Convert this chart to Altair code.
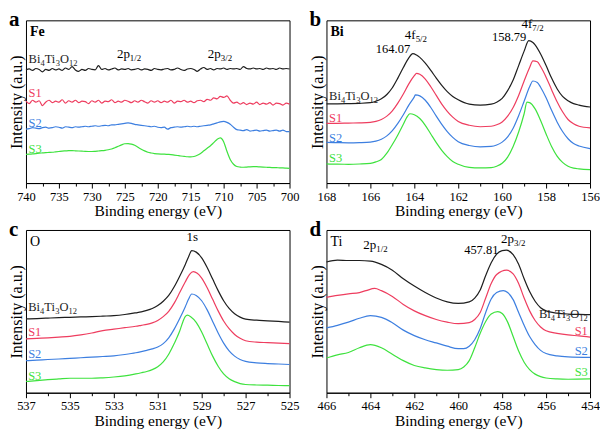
import altair as alt
import pandas as pd
import numpy as np

FONT = "Liberation Serif"
SERIES = ["Bi4Ti3O12", "S1", "S2", "S3"]
COLORS = ["#1e1e1e", "#ee3d5f", "#3d7fe0", "#3ee23e"]

# ---------------- Fe 2p (panel a) ----------------
FE_X = list(np.arange(740, 699.75, -0.5))
FE_BLACK = [117.5, 118.5, 117, 119, 118, 115.5, 118, 117, 119, 117.5,
            118.5, 117, 119.5, 118, 121, 117.5, 116, 118, 117, 119,
            118, 117.5, 122, 118, 119, 117.5, 118.5, 119.5, 117.5, 118.5,
            118, 119, 117.5, 118, 119, 117.5, 118.5, 118, 117, 119,
            118, 117.5, 118.5, 119, 117.5, 118, 119.5, 118, 117, 118.5,
            119, 118, 116, 118.5, 120, 118, 119, 117.5, 119, 118.5,
            119.5, 118, 119, 118.5, 119, 118, 121, 119, 118.5, 119.5,
            118.5, 119, 118, 119.5, 118.5, 119, 118, 119.5, 118.5, 119,
            118.5]
FE_RED = [85, 82.5, 86, 84, 85.5, 80.5, 84, 86, 83.5, 85,
          84, 86.5, 83, 85.5, 84, 86, 83.5, 85, 84.5, 82.5,
          85.5, 84, 86, 83, 85, 84.5, 86.5, 83.5, 85, 84,
          86, 85, 83.5, 85.5, 84, 86, 84.5, 83, 85.5, 84,
          85.5, 83.5, 85, 84, 86, 83, 85, 84.5, 86, 84,
          85, 83.5, 85.5, 86, 84.5, 87, 86, 88.5, 87.5, 90,
          89, 90.5, 86, 83, 84, 82, 83.5, 81.5, 83, 82,
          84, 81.5, 83, 82, 83.5, 81, 83, 82.5, 81, 83,
          82]
FE_BLUE = [56, 56.5, 57.5, 57, 56.5, 57.5, 58, 57, 57.5, 58.5,
           58, 57, 58.5, 58, 57.5, 58.5, 58, 58.5, 59, 58.5,
           59, 59.5, 59, 59.5, 60, 59.5, 60.5, 60.5, 61, 61.5,
           62, 62.5, 62, 61, 60.5, 60, 59.5, 59, 58.5, 59,
           58, 57.5, 58, 56, 57.5, 58, 58.5, 58, 58.5, 59,
           58.5, 59, 58.5, 59, 59.5, 60, 60.5, 61.5, 62.5, 63.5,
           64, 63, 61, 58, 55.5, 55, 54.5, 55.5, 54, 54.5,
           55, 54, 54.5, 55, 54, 54.5, 55, 54, 55, 53.5,
           53.5]
FE_GREEN = [29.7, 30, 30.3, 30.6, 31, 31.3, 31.6, 31.8, 32, 32.4,
            32.8, 33.2, 33.4, 33.6, 33.7, 33.5, 33.3, 33.1, 32.9, 32.8,
            32.8, 33, 33.3, 33.6, 34, 34.6, 35.4, 36.6, 38.2, 39.7,
            40.8, 41, 40.4, 39.2, 37.2, 35.2, 33.4, 32, 31.2, 30.6,
            30.3, 30.1, 30, 29.8, 29.6, 29.1, 28.6, 28.1, 27.7, 27.3,
            27.1, 27.6, 28.8, 30.8, 33.5, 36.2, 38.8, 42, 45.3, 47,
            43, 33, 24.5, 19.5, 17.2, 16.6, 16.4, 16.6, 16.9, 17,
            17, 16.8, 16.6, 16.4, 16.2, 16.1, 16, 15.8, 15.7, 15.5,
            15.3]

# ---------------- Bi 4f (panel b) ----------------
BI_BLACK_X = [168, 167.5, 167, 166.5, 166, 165.75, 165.5, 165.25, 165, 164.75, 164.5, 164.25, 164.07,
              163.9, 163.75, 163.5, 163.25, 163, 162.75, 162.5, 162.25, 162, 161.5, 161, 160.5, 160.25, 160,
              159.75, 159.5, 159.25, 159, 158.79, 158.6, 158.5, 158.25, 158, 157.75, 157.5, 157.25, 157,
              156.75, 156.5, 156]
BI_BLACK_Y = [82.3, 82.3, 82.5, 82.8, 83.5, 85, 87.5, 92, 99, 109, 120, 130, 134.5,
              133, 130.5, 124.5, 117, 109, 101.5, 95, 90, 86.5, 82, 81, 82, 84, 88,
              96, 107, 122, 137, 148, 146, 143.5, 134, 122, 109, 98, 90, 85.5,
              82.5, 81, 79]
BI_RED_X = [168, 167.5, 167, 166.5, 166, 165.75, 165.5, 165.25, 165, 164.75, 164.5, 164.25, 164,
            163.9, 163.75, 163.5, 163.25, 163, 162.75, 162.5, 162.25, 162, 161.5, 161, 160.5, 160.25, 160,
            159.75, 159.5, 159.25, 159, 158.75, 158.6, 158.4, 158.25, 158, 157.75, 157.5, 157.25, 157,
            156.75, 156.5, 156]
BI_RED_Y = [62, 62, 62.3, 62.5, 63, 64, 66, 69.5, 75, 83, 92.5, 103, 111.5,
            114, 113, 108, 100, 91, 82, 74.5, 68.5, 64, 60, 58.5, 59, 60.5, 63.5,
            69.5, 78.5, 91, 106, 120, 127, 126, 121, 110, 97, 84.5, 74, 66,
            61.5, 59, 57.3]
BI_BLUE_X = [168, 167.5, 167, 166.5, 166, 165.75, 165.5, 165.25, 165, 164.75, 164.5, 164.25, 164,
             163.95, 163.75, 163.5, 163.25, 163, 162.75, 162.5, 162.25, 162, 161.5, 161, 160.5, 160.25, 160,
             159.75, 159.5, 159.25, 159, 158.75, 158.6, 158.4, 158.25, 158, 157.75, 157.5, 157.25, 157,
             156.75, 156.5, 156]
BI_BLUE_Y = [42.3, 42, 41.8, 42, 42.5, 43.5, 45.5, 49, 54.5, 62, 71, 81, 89.5,
             91.5, 90.5, 86, 78.5, 69.5, 61, 53.5, 47.5, 43, 39, 37.5, 38, 39.5, 42.5,
             48, 57, 70, 85, 100, 106, 104.5, 99.5, 88.5, 75.5, 63.5, 53.5, 46,
             41, 38.5, 35.7]
BI_GREEN_X = [168, 167.5, 167, 166.5, 166, 165.75, 165.5, 165.25, 165, 164.75, 164.5, 164.35, 164.2,
              164, 163.75, 163.5, 163.25, 163, 162.75, 162.5, 162.25, 162, 161.5, 161, 160.5, 160.25, 160,
              159.75, 159.5, 159.25, 159, 158.87, 158.75, 158.5, 158.25, 158, 157.75, 157.5, 157.25, 157,
              156.75, 156.5, 156]
BI_GREEN_Y = [20, 19.6, 19.5, 19.8, 20.5, 22, 24.5, 31, 40, 50, 61, 68, 72,
              71, 67, 60, 51, 42, 34, 27.5, 22.5, 19.5, 16.3, 15.7, 16, 17.5, 20.5,
              27, 38, 53, 72, 84, 83.5, 77, 65, 51, 38, 28, 21.5, 17.5,
              15.5, 14.7, 14]

# ---------------- O 1s (panel c) ----------------
O_X = [537, 536.5, 536, 535.5, 535, 534.5, 534, 533.5, 533, 532.5, 532, 531.75, 531.5, 531.25, 531,
       530.75, 530.5, 530.25, 530, 529.75, 529.6, 529.45, 529.25, 529, 528.75, 528.5, 528.25, 528,
       527.75, 527.5, 527.25, 527, 526.5, 526, 525.5, 525]
O_BLACK_Y = [76.7, 77, 77.5, 78, 78.3, 78.7, 79, 79.5, 80, 81.2, 83, 84, 85.5, 87.5, 90.5,
             95, 101, 110, 121, 133, 141, 147.5, 146, 140, 130, 118, 106, 95.5,
             87.5, 82, 78.5, 76.5, 75.3, 74.7, 74, 73.3]
O_RED_X = [537, 536.5, 536, 535.5, 535, 534.5, 534, 533.5, 533, 532.5, 532, 531.75, 531.5, 531.25, 531,
           530.75, 530.5, 530.25, 530, 529.75, 529.55, 529.38, 529.2, 529, 528.75, 528.5, 528.25, 528,
           527.75, 527.5, 527.25, 527, 526.5, 526, 525.5, 525]
O_RED_Y = [56, 56.5, 57, 57.7, 58.5, 60, 62, 64.5, 66, 67.5, 69, 70, 71, 72.5, 75,
           79, 84.5, 93, 104, 115, 123, 125.7, 124, 119, 109, 97, 85, 74.5,
           66.5, 60.5, 56.5, 54, 52.5, 52, 51.5, 51]
O_BLUE_Y = [33.3, 33.8, 34.5, 35, 35.7, 36.3, 37, 37.6, 38.3, 39.7, 41.5, 42.7, 44, 45.5, 47.5,
            51, 57, 66, 77, 89, 97, 102.5, 101, 95.5, 86, 74, 62, 51.5,
            43.5, 38, 34.5, 32.5, 31, 30.3, 29.8, 29.3]
O_GREEN_X = [537, 536.5, 536, 535.5, 535, 534.5, 534, 533.5, 533, 532.5, 532, 531.75, 531.5, 531.25, 531,
             530.75, 530.5, 530.25, 530, 529.85, 529.75, 529.65, 529.5, 529.25, 529, 528.75, 528.5, 528.25,
             528, 527.75, 527.5, 527.25, 527, 526.5, 526, 525.5, 525]
O_GREEN_Y = [11.7, 12.5, 13.5, 14.3, 15, 15, 15, 15.5, 16.3, 17.5, 19.5, 20.7, 22, 24, 27,
             32, 40, 51, 64, 74, 79, 80.5, 79, 73, 63, 50.5, 38, 27.5,
             19.5, 14.5, 11.5, 9.5, 8.5, 8, 7.8, 7.5, 7.3]

# ---------------- Ti 2p (panel d) ----------------
TI_BLACK_X = [466, 465.5, 465, 464.5, 464, 463.5, 463, 462.5, 462, 461.5, 461, 460.5, 460, 459.5, 459.25,
              459, 458.75, 458.5, 458.25, 458, 457.81, 457.5, 457.25, 457, 456.75, 456.5, 456.25, 456,
              455.5, 455, 454.5, 454]
TI_BLACK_Y = [135.7, 137.7, 137.3, 137.3, 136.7, 133.3, 127.3, 118.3, 110.7, 104, 98.3, 94.3, 92.7, 94.3, 98.3,
              106.7, 121.7, 135, 144, 147.5, 148, 143.3, 133.3, 118.3, 105, 95, 88.3, 85,
              82.7, 81.7, 81.3, 81]
TI_RED_X = [466, 465.5, 465, 464.5, 464.2, 463.8, 463.5, 463, 462.5, 462, 461.5, 461, 460.5, 460, 459.5,
            459.25, 459, 458.75, 458.5, 458.25, 457.8, 457.5, 457.25, 457, 456.75, 456.5, 456.25, 456,
            455.5, 455, 454.5, 454]
TI_RED_Y = [99, 101, 102.7, 104, 106, 108.3, 106, 100, 91.7, 85, 80, 76, 73.3, 71.7, 72.7,
            76, 83.3, 98.3, 113.3, 122.7, 127.3, 123.3, 113.3, 98.3, 85, 75, 68.3, 64.3,
            61.7, 60, 59, 57.7]
TI_BLUE_X = [466, 465.5, 465, 464.5, 464, 463.5, 463, 462.5, 462, 461.5, 461, 460.5, 460, 459.75, 459.5,
             459.25, 459, 458.75, 458.5, 458.25, 457.95, 457.75, 457.5, 457.25, 457, 456.75, 456.5, 456.25,
             456, 455.5, 455, 454]
TI_BLUE_Y = [67.3, 70, 73.3, 77.3, 80, 78.3, 72.7, 65, 59.3, 55, 51.7, 48.3, 45.7, 45.7, 48.3,
             55, 66.7, 83.3, 97.3, 104, 106, 104, 96.7, 83.3, 70, 58.3, 50, 44,
             40.7, 38.3, 37.3, 36.7]
TI_GREEN_X = [466, 465.5, 465, 464.5, 464, 463.5, 463, 462.5, 462, 461.5, 461, 460.5, 460, 459.75, 459.5,
              459.25, 459, 458.75, 458.5, 458.2, 458, 457.75, 457.5, 457.25, 457, 456.75, 456.5, 456.25,
              456, 455.5, 455, 454]
TI_GREEN_Y = [36, 39.3, 41.7, 46.7, 50, 46.7, 40, 33.3, 28.3, 25.7, 24, 23.3, 24, 26.7, 33.3,
              46.7, 61.7, 74, 81.7, 84.3, 82.3, 73.3, 58.3, 43.3, 31.7, 24, 19.3, 16.7,
              15.3, 14.3, 14, 14.3]

# ---------------- tick values ----------------
FE_TICKS = list(np.arange(700, 740.1, 2.5))
BI_TICKS = list(range(156, 169))
O_TICKS = list(range(525, 538))
TI_TICKS = list(range(454, 467))

W = {'B': .667, 'i': .278, 'T': .611, 'O': .722, 'S': .556, 'p': .5, 'f': .333,
     '/': .278, 's': .389, '.': .25, 'F': .556, 'e': .444}


def tw(s, fs):
    return sum(W.get(c, .5) for c in s) * fs


def long_df(pairs):
    rows = []
    for name, xs, ys in pairs:
        for x, y in zip(xs, ys):
            rows.append({"x": float(x), "y": float(y), "s": name})
    return pd.DataFrame(rows)


def rich_text(x, y, parts, fs, color, xenc, yenc, align="left"):
    subfs = fs * 0.68
    widths = [tw(t, subfs if sub else fs) for t, sub in parts]
    total = sum(widths)
    off = 0 if align == "left" else (-total if align == "right" else -total / 2)
    layers = []
    for (t, sub), w in zip(parts, widths):
        layers.append(
            alt.Chart(pd.DataFrame({"x": [x], "y": [y], "t": [t]}))
            .mark_text(align="left", baseline="middle", dx=off, dy=4 if sub else 0,
                       fontSize=subfs if sub else fs, font=FONT, color=color)
            .encode(x=xenc, y=yenc, text="t:N"))
        off += w
    return layers


BTO = [("Bi", False), ("4", True), ("Ti", False), ("3", True), ("O", False), ("12", True)]


def panel(letter, name, bold_name, dom, ticks, test, series, labels, interp):
    xs = alt.Scale(domain=dom, reverse=True, nice=False, zero=False)
    ys = alt.Scale(domain=[0, 169], nice=False, zero=False)
    xaxis = alt.Axis(
        title="Binding energy (eV)", values=ticks,
        labelExpr=f"({test}) ? datum.label : ''",
        tickSize={"condition": {"test": test, "value": 5}, "value": 3},
        grid=False, labelFont=FONT, labelFontSize=12.5, titleFont=FONT,
        titleFontSize=15.5, titleFontWeight="normal", labelPadding=2, titlePadding=1,
        labelFlush=False, labelOverlap=False, domainColor="black",
        tickColor="black", labelColor="black", titleColor="black")
    yaxis = alt.Axis(
        title="Intensity (a.u.)", labels=False, ticks=False, domain=False, grid=False,
        titleFont=FONT, titleFontSize=16, titleFontWeight="normal", titlePadding=1,
        titleColor="black")
    xenc = alt.X("x:Q", scale=xs, axis=xaxis, title="Binding energy (eV)")
    yenc = alt.Y("y:Q", scale=ys, axis=yaxis, title="Intensity (a.u.)")
    df = long_df(series)
    lines = alt.Chart(df).mark_line(strokeWidth=1.2, interpolate=interp).encode(
        x=xenc, y=yenc,
        color=alt.Color("s:N", scale=alt.Scale(domain=SERIES, range=COLORS), legend=None),
        detail="s:N",
    )
    layers = [lines]
    for (x, y, parts, fs, color, align) in labels:
        layers += rich_text(x, y, parts, fs, color, xenc, yenc, align)
    layers.append(
        alt.Chart(pd.DataFrame({"t": [letter]})).mark_text(
            align="left", baseline="alphabetic", fontSize=21, fontWeight="bold",
            font=FONT, color="black").encode(x=alt.value(-17), y=alt.value(6), text="t:N"))
    layers.append(
        alt.Chart(pd.DataFrame({"t": [name]})).mark_text(
            align="left", baseline="middle", fontSize=14,
            fontWeight="bold" if bold_name else "normal",
            font=FONT, color="black").encode(x=alt.value(4), y=alt.value(12), text="t:N"))
    return alt.layer(*layers).properties(width=264, height=163)


def slabels(x, ys_, align, fs=12.5):
    out = [(x, ys_[0], BTO, fs, COLORS[0], align)]
    for i, nm in enumerate(["S1", "S2", "S3"]):
        out.append((x, ys_[i + 1], [(nm, False)], fs, COLORS[i + 1], align))
    return out


pa = panel("a", "Fe", True, [700, 740], FE_TICKS, "datum.value % 5 == 0",
           [("Bi4Ti3O12", FE_X, FE_BLACK), ("S1", FE_X, FE_RED),
            ("S2", FE_X, FE_BLUE), ("S3", FE_X, FE_GREEN)],
           slabels(739.6, [129, 94, 62.3, 35], "left") + [
               (726.2, 134, [("2p", False), ("1/2", True)], 13, "black", "left"),
               (712.4, 134, [("2p", False), ("3/2", True)], 13, "black", "left")],
           "monotone")

pb = panel("b", "Bi", True, [156, 168], BI_TICKS, "datum.value % 2 == 0",
           [("Bi4Ti3O12", BI_BLACK_X, BI_BLACK_Y), ("S1", BI_RED_X, BI_RED_Y),
            ("S2", BI_BLUE_X, BI_BLUE_Y), ("S3", BI_GREEN_X, BI_GREEN_Y)],
           slabels(167.88, [90.7, 68, 47.3, 25.7], "left") + [
               (164.97, 139, [("164.07", False)], 12.5, "black", "center"),
               (164.43, 153.5, [("4f", False), ("5/2", True)], 13, "black", "left"),
               (159.68, 152, [("158.79", False)], 12.5, "black", "center"),
               (159.12, 165, [("4f", False), ("7/2", True)], 13, "black", "left")],
           "monotone")

pc = panel("c", "O", False, [525, 537], O_TICKS, "datum.value % 2 == 1",
           [("Bi4Ti3O12", O_X, O_BLACK_Y), ("S1", O_RED_X, O_RED_Y),
            ("S2", O_X, O_BLUE_Y), ("S3", O_GREEN_X, O_GREEN_Y)],
           slabels(536.9, [89.3, 63.3, 40.7, 17.3], "left") + [
               (529.43, 161.7, [("1s", False)], 13, "black", "center")],
           "monotone")

pd_ = panel("d", "Ti", False, [454, 466], TI_TICKS, "datum.value % 2 == 0",
            [("Bi4Ti3O12", TI_BLACK_X, TI_BLACK_Y), ("S1", TI_RED_X, TI_RED_Y),
             ("S2", TI_BLUE_X, TI_BLUE_Y), ("S3", TI_GREEN_X, TI_GREEN_Y)],
            slabels(454.1, [81.7, 64, 43.3, 21.7], "right") + [
                (464.32, 153.3, [("2p", False), ("1/2", True)], 13, "black", "left"),
                (458.95, 148.3, [("457.81", False)], 12.5, "black", "center"),
                (458.05, 159.3, [("2p", False), ("3/2", True)], 13, "black", "left")],
            "monotone")

chart = alt.concat(pa, pb, pc, pd_, columns=2, spacing={"row": 47, "column": 37},
                   bounds="flush").properties(
    padding=0, background="white"
).configure(
    font=FONT,
    style={"guide-label": {"font": FONT, "fill": "black"},
           "guide-title": {"font": FONT, "fill": "black", "fontWeight": "normal"}},
).configure_view(stroke="black", strokeWidth=1).configure_axis(
    labelFont=FONT, titleFont=FONT, labelFontSize=12.5, titleFontWeight="normal",
    labelColor="black", titleColor="black", tickColor="black", domainColor="black"
).configure_axisX(titleFontSize=15.5).configure_axisY(titleFontSize=16)

chart.save("out.html", embed_options={"renderer": "svg", "actions": False})
